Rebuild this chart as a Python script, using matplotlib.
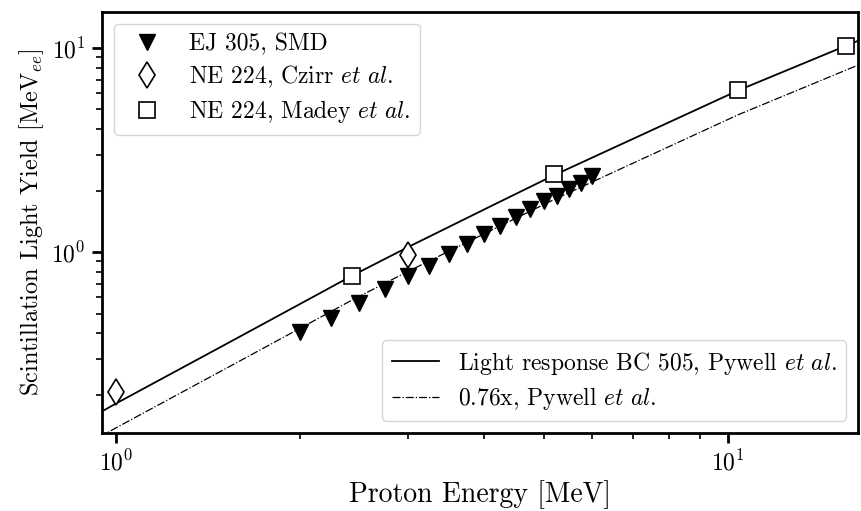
import numpy as np
import matplotlib
matplotlib.use("Agg")
import matplotlib.pyplot as plt

plt.rcParams["font.family"] = "serif"
plt.rcParams["font.serif"] = ["cmr10"]
plt.rcParams["mathtext.fontset"] = "cm"
plt.rcParams["axes.formatter.use_mathtext"] = True

# EJ 305, SMD
smd_e = [2.0, 2.25, 2.5, 2.75, 3.0, 3.25, 3.5, 3.75, 4.0, 4.25, 4.5, 4.75, 5.0, 5.25, 5.5, 5.75, 6.0]
smd_l = [0.404, 0.475, 0.562, 0.659, 0.765, 0.857, 0.981, 1.098, 1.22, 1.346, 1.478, 1.625, 1.77, 1.888, 2.04, 2.19, 2.37]

# NE 224, Czirr et al.
czirr_e = [1.0, 3.0]
czirr_l = [0.207, 0.97]

# NE 224, Madey et al.
madey_e = [2.43, 5.19, 10.4, 15.6]
madey_l = [0.765, 2.41, 6.2, 10.26]

# Light response BC 505, Pywell et al.
pywell_e = [0.94, 1.0, 1.5, 2.0, 2.43, 3.0, 4.2, 5.19, 7.0, 10.4, 15.6, 16.5]
pywell_l = [0.163, 0.181, 0.349, 0.557, 0.765, 1.057, 1.74, 2.375, 3.59, 6.2, 10.26, 11.0]
scale = 0.76

fig = plt.figure(figsize=(8.61, 5.11), dpi=100)
ax = fig.add_axes([0.1185, 0.1526, 0.878, 0.824])

l1, = ax.plot(pywell_e, pywell_l, "-", color="black", lw=1.3,
              label=r"Light response BC 505, Pywell $\mathit{et\ al.}$")
l2, = ax.plot(pywell_e, scale * np.array(pywell_l), "-.", color="black", lw=0.9,
              label=r"0.76x, Pywell $\mathit{et\ al.}$")

m1, = ax.plot(smd_e, smd_l, "v", color="black", ms=11, ls="none", label="EJ 305, SMD")
m2, = ax.plot(czirr_e, czirr_l, "d", mfc="white", mec="black", mew=1.2, ms=13, ls="none",
              label=r"NE 224, Czirr $\mathit{et\ al.}$")
m3, = ax.plot(madey_e, madey_l, "s", mfc="white", mec="black", mew=1.2, ms=12, ls="none",
              label=r"NE 224, Madey $\mathit{et\ al.}$")

ax.set_xscale("log")
ax.set_yscale("log")
ax.set_xlim(0.95, 16.3)
ax.set_ylim(0.13, 15)

for s in ax.spines.values():
    s.set_linewidth(2)
ax.tick_params(which="major", length=7, width=2, labelsize=17, pad=5)
ax.tick_params(which="minor", length=4, width=1.2, labelleft=False, labelbottom=False)

ax.set_xlabel("Proton Energy [MeV]", fontsize=20)
ax.set_ylabel(r"Scintillation Light Yield [MeV$_{ee}$]", fontsize=17.5)

leg1 = ax.legend(handles=[m1, m2, m3], loc="upper left", fontsize=17, labelspacing=0.35)
ax.add_artist(leg1)
ax.legend(handles=[l1, l2], loc="lower right", fontsize=17, labelspacing=0.35)

fig.savefig("out.png", dpi=100)
